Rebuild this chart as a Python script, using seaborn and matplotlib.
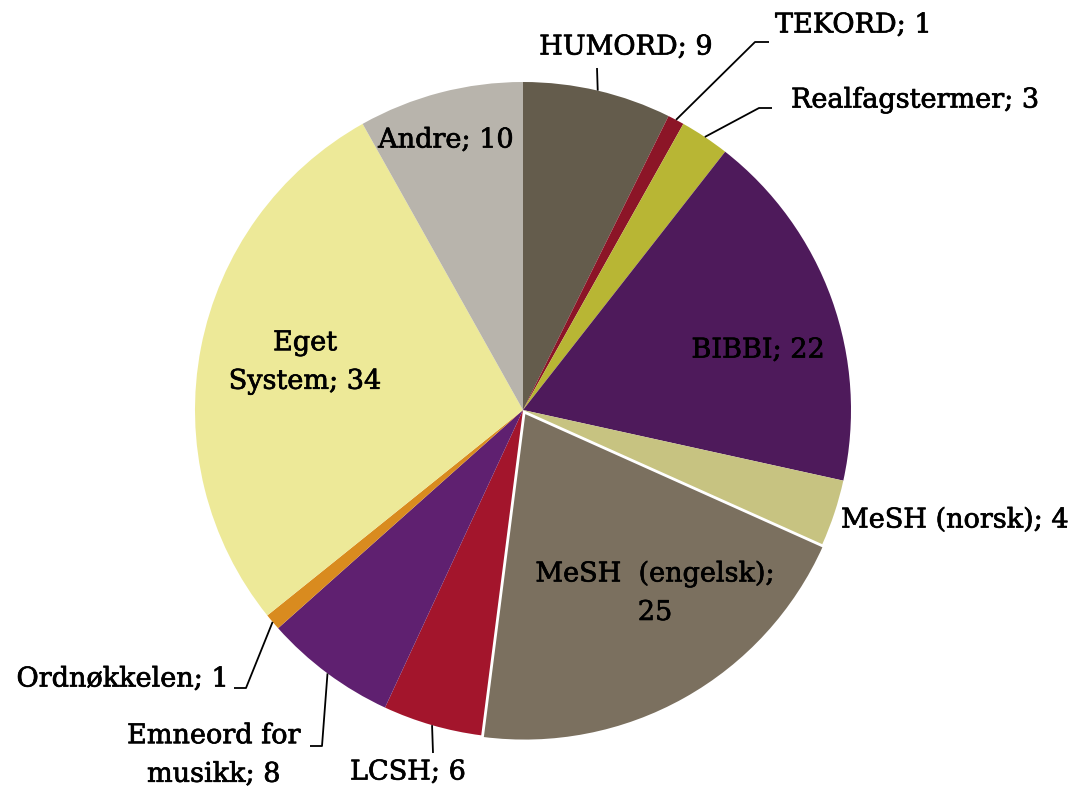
import numpy as np
import matplotlib.pyplot as plt
import matplotlib.patheffects as pe
import seaborn as sns

# Data
categories = ['HUMORD', 'TEKORD', 'Realfagstermer', 'BIBBI', 'MeSH (norsk)',
              'MeSH (engelsk)', 'LCSH', 'Emneord for musikk', 'Ordnøkkelen',
              'Eget System', 'Andre']
counts = [9, 1, 3, 22, 4, 25, 6, 8, 1, 34, 10]
colors = ['#645c4c', '#8c1527', '#b8b634', '#4e1a5b', '#c7c381',
          '#7b705f', '#a3152c', '#5f2070', '#d98b1f', '#ede998', '#b8b4ac']

sns.set_style('white')
plt.rcParams['font.family'] = ['DejaVu Serif']

W, H = 1081, 788
fig = plt.figure(figsize=(W / 100, H / 100), dpi=100)
ax = fig.add_axes([0, 0, 1, 1])

cx, cy, r = 523, H - 410, 328
explode = [0, 0, 0, 0, 0, 3, 0, 0, 0, 0, 0]
wedges, _ = ax.pie(counts, colors=colors, startangle=90, counterclock=False,
                   center=(cx, cy), radius=r, explode=explode,
                   wedgeprops=dict(linewidth=0))
# white edge on MeSH (engelsk)
wedges[5].set_edgecolor('white')
wedges[5].set_linewidth(1.5)

ax.set_xlim(0, W)
ax.set_ylim(0, H)
ax.set_aspect('equal')
ax.axis('off')

fs = 19.5
heavy = [pe.withStroke(linewidth=0.5, foreground='black')]


def edge_point(i, frac=1.0):
    w = wedges[i]
    a = np.deg2rad((w.theta1 + w.theta2) / 2)
    return cx + frac * r * np.cos(a), cy + frac * r * np.sin(a)


def lab(i, txt, x, y, ha='center', line=None):
    ax.text(x, H - y, txt, ha=ha, va='center', fontsize=fs, color='black',
            linespacing=1.55, path_effects=heavy)
    if line is not None:
        sx, sy = edge_point(i)
        pts = [(sx, sy)] + [(px, H - py) for px, py in line]
        xs, ys = zip(*pts)
        ax.plot(xs, ys, color='black', lw=1.3, solid_capstyle='butt')


# labels outside with leader lines
lab(0, 'HUMORD; 9', 626, 47, line=[(597, 68)])
lab(1, 'TEKORD; 1', 775, 25, ha='left', line=[(755, 42), (769, 42)])
lab(2, 'Realfagstermer; 3', 791, 100, ha='left', line=[(759, 108), (772, 108)])
lab(4, 'MeSH (norsk); 4', 841, 520, ha='left')
lab(6, 'LCSH; 6', 408, 772, line=[(433, 753)])
lab(7, 'Emneord for\nmusikk; 8', 214, 755, line=[(322, 746), (310, 746)])
lab(8, 'Ordnøkkelen; 1', 229, 679, ha='right', line=[(246, 688), (234, 688)])

# labels inside
lab(3, 'BIBBI; 22', 758, 350)
lab(5, 'MeSH  (engelsk);\n25', 655, 593)
lab(9, 'Eget\nSystem; 34', 305, 362)
lab(10, 'Andre; 10', 446, 140)

fig.savefig('out.png', dpi=100, facecolor='white')
